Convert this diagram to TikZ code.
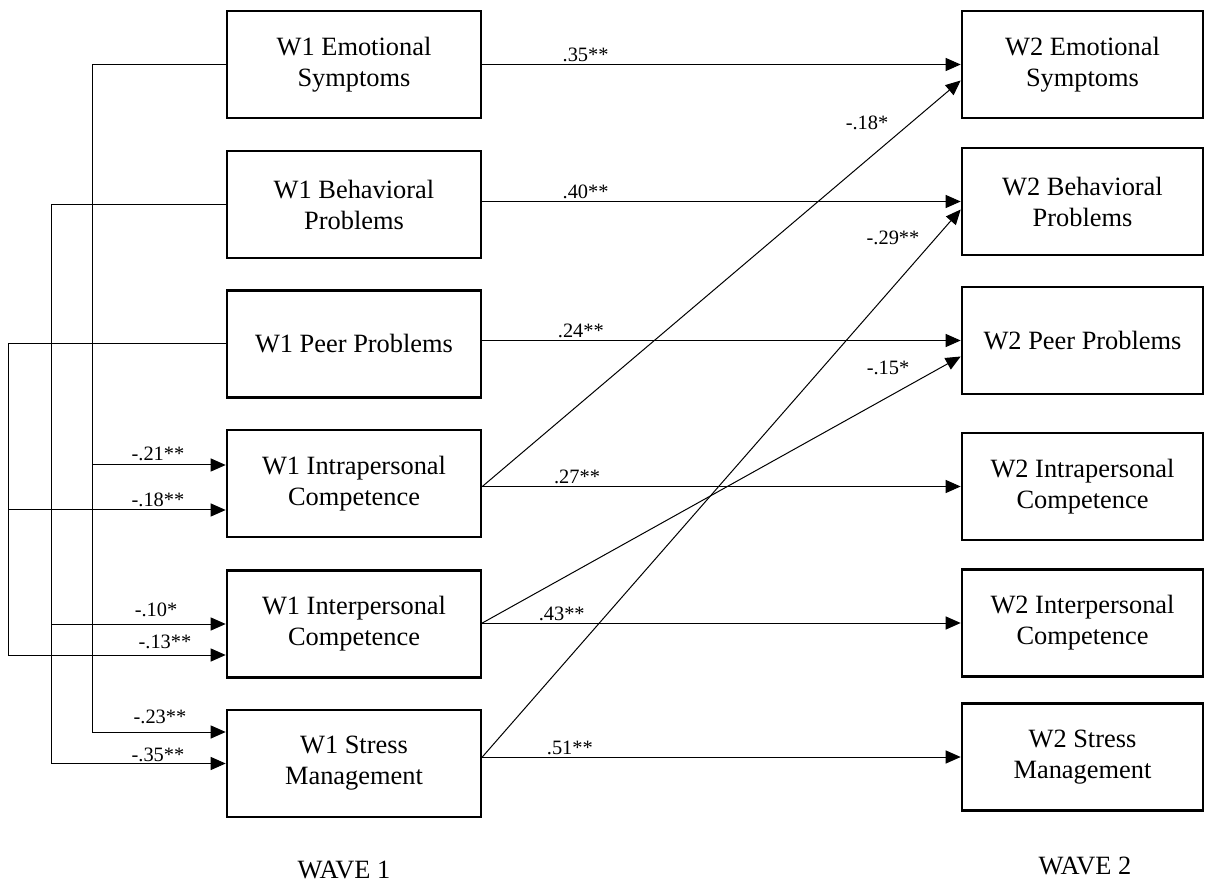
\documentclass[tikz,border=0pt]{standalone}
\usepackage{fontspec}
\setmainfont{Liberation Serif}
\usetikzlibrary{arrows.meta}

\begin{document}
\begin{tikzpicture}[x=0.5pt,y=-0.5pt]
  \tikzstyle{VarBox}=[draw,line width=1.3pt,minimum height=53.5pt,inner sep=0pt,
                      align=center,font=\fontsize{13.2}{15.5}\selectfont]
  \tikzstyle{WaveOne}=[VarBox,minimum width=127pt]
  \tikzstyle{WaveTwo}=[VarBox,minimum width=120.5pt]
  \tikzstyle{PathStyle}=[line width=0.5pt,-{Triangle[length=7.5pt,width=6.5pt]}]
  \tikzstyle{RailStyle}=[line width=0.5pt]
  \tikzstyle{Coef}=[font=\fontsize{10.2}{12}\selectfont,inner sep=1pt]
  \tikzstyle{WaveLabel}=[font=\fontsize{13.2}{15.5}\selectfont]

  \useasboundingbox (0,0) rectangle (1205,887);

  \node[WaveOne] (W1ES) at (354,64.5)  {W1 Emotional\\Symptoms};
  \node[WaveOne] (W1BP) at (354,204.5) {W1 Behavioral\\Problems};
  \node[WaveOne] (W1PP) at (354,344)   {W1 Peer Problems};
  \node[WaveOne] (W1IC) at (354,483.5) {W1 Intrapersonal\\Competence};
  \node[WaveOne] (W1XC) at (354,624)   {W1 Interpersonal\\Competence};
  \node[WaveOne] (W1SM) at (354,763.5) {W1 Stress\\Management};

  \node[WaveTwo] (W2ES) at (1082.5,64.5)  {W2 Emotional\\Symptoms};
  \node[WaveTwo] (W2BP) at (1082.5,201.5) {W2 Behavioral\\Problems};
  \node[WaveTwo] (W2PP) at (1082.5,340.5) {W2 Peer Problems};
  \node[WaveTwo] (W2IC) at (1082.5,486.5) {W2 Intrapersonal\\Competence};
  \node[WaveTwo] (W2XC) at (1082.5,623)   {W2 Interpersonal\\Competence};
  \node[WaveTwo] (W2SM) at (1082.5,757)   {W2 Stress\\Management};

  \draw[PathStyle] (W2ES.west -| W1ES.east) -- node[Coef,pos=0.216,above] (cES) {.35**} (W2ES.west);
  \draw[PathStyle] (W2BP.west -| W1BP.east) -- node[Coef,pos=0.216,above] (cBP) {.40**} (W2BP.west);
  \draw[PathStyle] (W2PP.west -| W1PP.east) -- node[Coef,pos=0.206,above] (cPP) {.24**} (W2PP.west);
  \draw[PathStyle] (W2IC.west -| W1IC.east) -- node[Coef,pos=0.198,above] (cIC) {.27**} (W2IC.west);
  \draw[PathStyle] (W2XC.west -| W1XC.east) -- node[Coef,pos=0.166,above] (cXC) {.43**} (W2XC.west);
  \draw[PathStyle] (W2SM.west -| W1SM.east) -- node[Coef,pos=0.183,above] (cSM) {.51**} (W2SM.west);

  \draw[PathStyle] (W2IC.west -| W1IC.east) -- ([yshift=-8pt]W2ES.west);
  \draw[PathStyle] (W2SM.west -| W1SM.east) -- ([yshift=-4pt]W2BP.west);
  \draw[PathStyle] (W2XC.west -| W1XC.east) -- ([yshift=-8pt]W2PP.west);
  \node[Coef] (dES) at (867,123) {-.18*};
  \node[Coef] (dBP) at (893,238) {-.29**};
  \node[Coef] (dPP) at (888,368) {-.15*};

  \coordinate (RailA) at (92,0);
  \coordinate (RailB) at (51,0);
  \coordinate (RailC) at (8,0);

  \draw[RailStyle] (W1ES.west) -| ([yshift=15.75pt]W1SM.west -| RailA);
  \draw[RailStyle] (W1BP.west) -| (W1SM.west -| RailB);
  \draw[RailStyle] (W1PP.west) -| ([yshift=-15.5pt]W1XC.west -| RailC);

  \draw[PathStyle] ([yshift=9.25pt]W1IC.west -| RailA) -- ([yshift=9.25pt]W1IC.west);
  \draw[PathStyle] ([yshift=-13.25pt]W1IC.west -| RailC) -- ([yshift=-13.25pt]W1IC.west);
  \draw[PathStyle] (W1XC.west -| RailB) -- (W1XC.west);
  \draw[PathStyle] ([yshift=-15.5pt]W1XC.west -| RailC) -- ([yshift=-15.5pt]W1XC.west);
  \draw[PathStyle] ([yshift=15.75pt]W1SM.west -| RailA) -- ([yshift=15.75pt]W1SM.west);
  \draw[PathStyle] (W1SM.west -| RailB) -- (W1SM.west);

  \node[Coef] (bIC1) at (158,454) {-.21**};
  \node[Coef] (bIC2) at (158,500) {-.18**};
  \node[Coef] (bXC1) at (156,610) {-.10*};
  \node[Coef] (bXC2) at (165,642) {-.13**};
  \node[Coef] (bSM1) at (160,717) {-.23**};
  \node[Coef] (bSM2) at (158,755) {-.35**};

  \node[WaveLabel] (WaveA) at (344,870) {WAVE 1};
  \node[WaveLabel] (WaveB) at (1085,866) {WAVE 2};
\end{tikzpicture}
\end{document}
